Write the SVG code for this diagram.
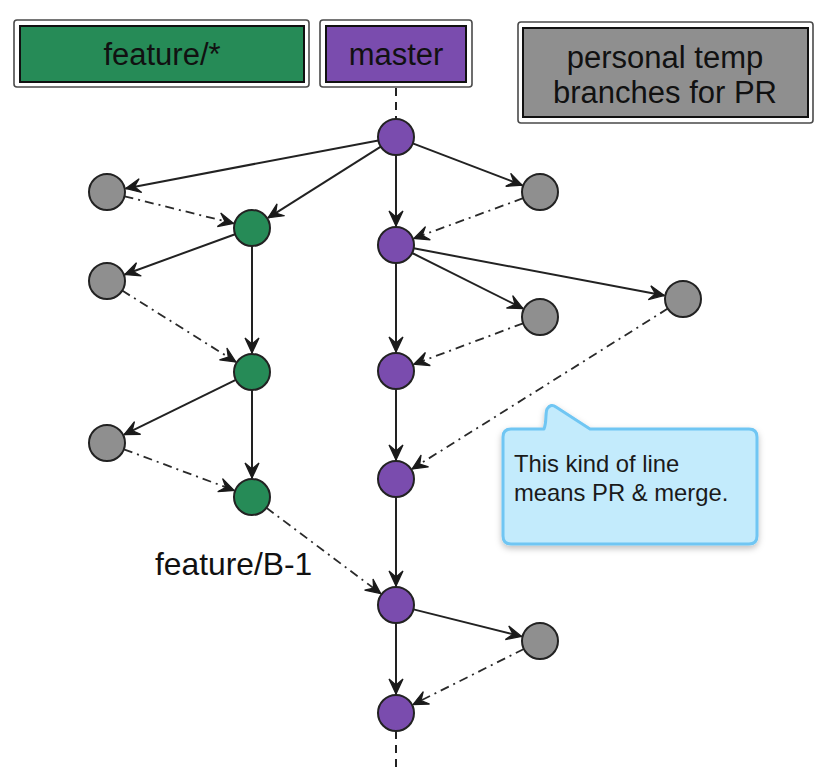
<svg xmlns="http://www.w3.org/2000/svg" width="830" height="776" viewBox="0 0 830 776">
  <style>
    .outer { fill: #ffffff; stroke: #4a4a4a; stroke-width: 1.6; }
    .inner { stroke: #111111; stroke-width: 2; }
    .hdr { font-family: "Liberation Sans", Arial, sans-serif; font-size: 31px; fill: #111111; text-anchor: middle; }
    .node { stroke: #222222; stroke-width: 2; }
    .green { fill: #268b57; }
    .purple { fill: #7a4cae; }
    .gray { fill: #8f8f8f; }
    .solid { stroke: #222222; stroke-width: 2; fill: none; marker-end: url(#arrow); }
    .pr { stroke: #2a2a2a; stroke-width: 1.8; fill: none; stroke-dasharray: 9 5 2 5; marker-end: url(#arrow); }
    .dash { stroke: #222222; stroke-width: 2; fill: none; stroke-dasharray: 8 6; }
    .label { font-family: "Liberation Sans", Arial, sans-serif; font-size: 31.8px; fill: #111111; }
    .note { font-family: "Liberation Sans", Arial, sans-serif; font-size: 23.8px; fill: #1a1a1a; }
  </style>
  <defs>
    <marker id="arrow" markerUnits="userSpaceOnUse" markerWidth="20" markerHeight="18" refX="16" refY="8" orient="auto">
      <path d="M1,1 L16,8 L1,15 L7,8 Z" fill="#1a1a1a" stroke="#1a1a1a" stroke-width="1.2" stroke-linejoin="miter"/>
    </marker>
    <filter id="shadow" x="-10%" y="-10%" width="120%" height="130%">
      <feDropShadow dx="0" dy="3" stdDeviation="3" flood-color="#000000" flood-opacity="0.25"/>
    </filter>
  </defs>

  <g id="header-feature">
    <rect class="outer" x="14" y="20" width="295" height="67" rx="3"/>
    <rect class="inner green" x="20" y="26" width="284" height="56"/>
    <text class="hdr" x="162" y="65">feature/*</text>
  </g>
  <g id="header-master">
    <rect class="outer" x="320" y="20" width="152" height="67" rx="3"/>
    <rect class="inner purple" x="326" y="26" width="140" height="56"/>
    <text class="hdr" x="396" y="65">master</text>
  </g>
  <g id="header-personal">
    <rect class="outer" x="518" y="22" width="295" height="101" rx="3"/>
    <rect class="inner gray" x="523" y="28" width="285" height="89"/>
    <text class="hdr" x="665" y="68">personal temp</text>
    <text class="hdr" x="665" y="103">branches for PR</text>
  </g>

  <g id="connectors">
    <line class="dash" x1="396" y1="88" x2="396" y2="119"/>
    <line class="dash" x1="396" y1="731" x2="396" y2="770"/>

    <line class="solid" x1="378.3" y1="140.4" x2="125.7" y2="188.4"/>
    <line class="solid" x1="380.8" y1="146.6" x2="268.1" y2="217.8"/>
    <line class="solid" x1="396" y1="155" x2="396" y2="226"/>
    <line class="solid" x1="412.8" y1="143.4" x2="522.2" y2="185.2"/>
    <line class="solid" x1="235.1" y1="234.2" x2="124.8" y2="274.5"/>
    <line class="solid" x1="252" y1="246" x2="252" y2="353"/>
    <line class="solid" x1="235.8" y1="379.9" x2="124.1" y2="434.6"/>
    <line class="solid" x1="252" y1="390" x2="252" y2="478"/>
    <line class="solid" x1="412.1" y1="253" x2="523" y2="308.5"/>
    <line class="solid" x1="413.7" y1="248.3" x2="664.3" y2="295.5"/>
    <line class="solid" x1="396" y1="263" x2="396" y2="352"/>
    <line class="solid" x1="396" y1="389" x2="396" y2="460"/>
    <line class="solid" x1="396" y1="497" x2="396" y2="586"/>
    <line class="solid" x1="413.5" y1="609.4" x2="521.6" y2="636.4"/>
    <line class="solid" x1="396" y1="623" x2="396" y2="694"/>

    <line class="pr" x1="124.5" y1="196.3" x2="233.6" y2="223.4"/>
    <line class="pr" x1="122.2" y1="290.6" x2="235.9" y2="361.9"/>
    <line class="pr" x1="123.9" y1="449.3" x2="234.2" y2="490.4"/>
    <line class="pr" x1="523.1" y1="198.2" x2="413.8" y2="238.4"/>
    <line class="pr" x1="523.1" y1="323.3" x2="413.8" y2="364.3"/>
    <line class="pr" x1="667.8" y1="308.6" x2="412.1" y2="468.9"/>
    <line class="pr" x1="266.4" y1="507.8" x2="380.8" y2="593.6"/>
    <line class="pr" x1="523.9" y1="649" x2="413" y2="704.5"/>
  </g>

  <g id="master-nodes">
    <circle id="m1" class="node purple" cx="396" cy="137" r="18"/>
    <circle id="m2" class="node purple" cx="396" cy="245" r="18"/>
    <circle id="m3" class="node purple" cx="396" cy="371" r="18"/>
    <circle id="m4" class="node purple" cx="396" cy="479" r="18"/>
    <circle id="m5" class="node purple" cx="396" cy="605" r="18"/>
    <circle id="m6" class="node purple" cx="396" cy="713" r="18"/>
  </g>
  <g id="feature-nodes">
    <circle id="g1" class="node green" cx="252" cy="228" r="18"/>
    <circle id="g2" class="node green" cx="252" cy="372" r="18"/>
    <circle id="g3" class="node green" cx="252" cy="497" r="18"/>
  </g>
  <g id="temp-nodes">
    <circle id="p1" class="node gray" cx="107" cy="192" r="18"/>
    <circle id="p2" class="node gray" cx="107" cy="281" r="18"/>
    <circle id="p3" class="node gray" cx="107" cy="443" r="18"/>
    <circle id="r1" class="node gray" cx="540" cy="192" r="18"/>
    <circle id="r2" class="node gray" cx="540" cy="317" r="18"/>
    <circle id="r3" class="node gray" cx="683" cy="299" r="18"/>
    <circle id="r4" class="node gray" cx="540" cy="641" r="18"/>
  </g>

  <g id="label-feature-b1">
    <text class="label" x="155" y="575">feature/B-1</text>
  </g>

  <g id="callout">
    <path filter="url(#shadow)" d="M511,429 L544,429 C547,421 545,414 547,409 Q551,403 556,407 L590,429 L749,429 Q757,429 757,437 L757,536 Q757,544 749,544 L511,544 Q503,544 503,536 L503,437 Q503,429 511,429 Z" fill="#c3ebfc" stroke="#6fc6f3" stroke-width="3" stroke-linejoin="round"/>
    <text class="note" x="514" y="472">This kind of line</text>
    <text class="note" x="514" y="501">means PR &amp; merge.</text>
  </g>
</svg>
